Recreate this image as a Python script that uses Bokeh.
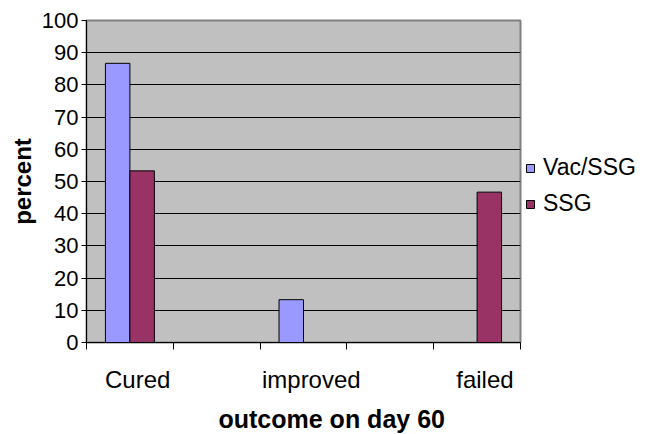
import math
from bokeh.plotting import figure
from bokeh.models import (ColumnDataSource, FixedTicker, Legend, LegendItem, Title, Range1d)
from bokeh.embed import file_html
from bokeh.resources import INLINE

categories = ["Cured", "improved", "failed"]
vac_ssg = [86.7, 13.3, 0.0]
ssg = [53.3, 0.0, 46.7]
y_ticks = [0, 10, 20, 30, 40, 50, 60, 70, 80, 90, 100]

FONT = "Liberation Sans"
idx = list(range(len(categories)))
bw = 0.141

p = figure(frame_width=434, frame_height=322, output_backend="svg", toolbar_location=None,
           x_range=Range1d(-0.25, 2.25), y_range=Range1d(0, 100),
           min_border_left=86, min_border_top=20, min_border_right=120, min_border_bottom=88)
p.background_fill_color = "#c0c0c0"
p.border_fill_color = "white"
p.outline_line_color = "#808080"
p.outline_line_width = 2

src1 = ColumnDataSource(dict(x=[i - bw / 2 for i in idx], top=vac_ssg))
src2 = ColumnDataSource(dict(x=[i + bw / 2 for i in idx], top=ssg))
r1 = p.vbar(x="x", top="top", width=bw, bottom=0, source=src1,
            fill_color="#9999ff", line_color="black", line_width=1)
r2 = p.vbar(x="x", top="top", width=bw, bottom=0, source=src2,
            fill_color="#993366", line_color="black", line_width=1)

# grid
p.xgrid.visible = False
p.ygrid.ticker = FixedTicker(ticks=y_ticks)
p.ygrid.grid_line_color = "black"
p.ygrid.grid_line_width = 1
p.ygrid.grid_line_alpha = 1

# y axis
p.yaxis.ticker = FixedTicker(ticks=y_ticks)
p.yaxis.major_label_text_font = FONT
p.yaxis.major_label_text_font_size = "22px"
p.yaxis.major_label_text_color = "black"
p.yaxis.major_tick_out = 5
p.yaxis.major_tick_in = 0
p.yaxis.minor_tick_line_color = None
p.yaxis.axis_line_color = "black"
p.yaxis.major_tick_line_color = "black"
p.yaxis.major_label_standoff = 3

# x axis
label_pos = [i + 0.045 for i in idx]
p.xaxis.ticker = FixedTicker(ticks=label_pos,
                             minor_ticks=[-0.25, 0.25, 0.75, 1.25, 1.75, 2.25])
p.xaxis.major_label_overrides = {pos: c for pos, c in zip(label_pos, categories)}
p.xaxis.major_tick_line_color = None
p.xaxis.major_tick_out = 0
p.xaxis.major_tick_in = 0
p.xaxis.minor_tick_line_color = "black"
p.xaxis.minor_tick_out = 7
p.xaxis.minor_tick_in = 0
p.xaxis.axis_line_color = "black"
p.xaxis.major_label_text_font = FONT
p.xaxis.major_label_text_font_size = "24px"
p.xaxis.major_label_text_color = "black"
p.xaxis.major_label_standoff = 16

# axis titles
p.add_layout(Title(text="outcome on day 60", text_font=FONT, text_font_size="25px",
                   text_font_style="bold", align="left", offset=132, standoff=14,
                   text_color="black"), "below")
p.add_layout(Title(text="percent", text_font=FONT, text_font_size="24px",
                   text_font_style="bold", align="center", offset=0, standoff=6,
                   text_color="black"), "left")

legend = Legend(items=[LegendItem(label="Vac/SSG", renderers=[r1]),
                       LegendItem(label="SSG", renderers=[r2])],
                location=(5, 125))
legend.label_text_font = FONT
legend.label_text_font_size = "23px"
legend.label_text_color = "black"
legend.glyph_width = 10
legend.glyph_height = 10
legend.label_standoff = 8
legend.spacing = 9
legend.padding = 0
legend.margin = 0
legend.border_line_color = None
legend.background_fill_alpha = 0
p.add_layout(legend, "right")

open("out.html", "w").write(file_html(p, INLINE))
